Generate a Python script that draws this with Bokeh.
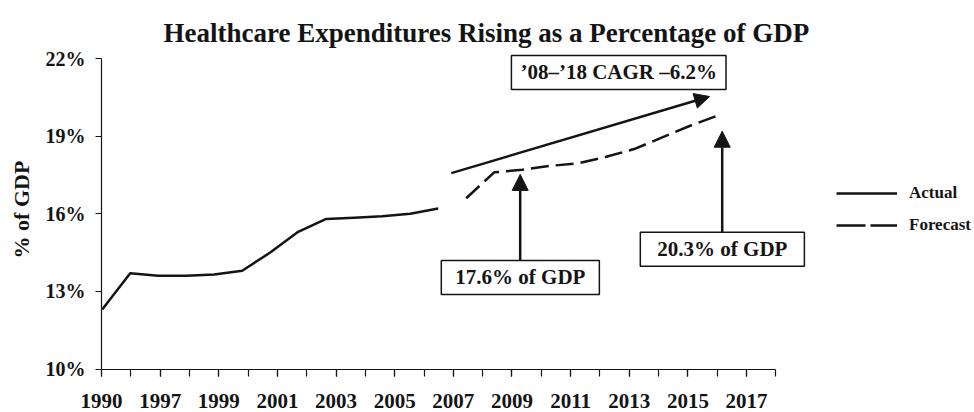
from bokeh.plotting import figure
from bokeh.models import (Range1d, FixedTicker, PrintfTickFormatter, Label, Arrow,
                          NormalHead, Legend, LegendItem, LinearAxis, Title)
from bokeh.embed import file_html
from bokeh.resources import INLINE

# ---------------- data ----------------
years = ["1990", "1996", "1997", "1998", "1999", "2000", "2001", "2002", "2003",
         "2004", "2005", "2006", "2007", "2008", "2009", "2010", "2011", "2012",
         "2013", "2014", "2015", "2016", "2017", "2018"]
label_years = ["1990", "1997", "1999", "2001", "2003", "2005", "2007", "2009",
               "2011", "2013", "2015", "2017"]

actual_years = ["1990", "1996", "1997", "1998", "1999", "2000", "2001", "2002",
                "2003", "2004", "2005", "2006", "2007"]
actual_values = [12.3, 13.7, 13.6, 13.6, 13.65, 13.8, 14.5, 15.3, 15.8, 15.85,
                 15.9, 16.0, 16.2]

forecast_years = ["2008", "2009", "2010", "2011", "2012", "2013", "2014", "2015",
                  "2016", "2017"]
forecast_values = [16.6, 17.6, 17.7, 17.85, 17.95, 18.2, 18.5, 18.95, 19.4, 19.8]

y_ticks = [10, 13, 16, 19, 22]

title_text = "Healthcare Expenditures Rising as a Percentage of GDP"
cagr_text = "\u201908\u2013\u201918 CAGR \u20136.2%"
note_2009 = "17.6% of GDP"
note_2018 = "20.3% of GDP"

# annotation anchors (axis units)
cagr_arrow = (11.93, 17.57, 20.74, 20.53)
arrow_2009 = (14.28, 14.10, 14.28, 17.52)
arrow_2018 = (21.17, 15.20, 21.17, 19.19)
box_cagr = (17.64, 21.46)
box_2009 = (14.285, 13.54)
box_2018 = (21.175, 14.63)

# ---------------- figure ----------------
FONT = "Liberation Serif"
INK = "#141414"
W, H = 974, 412
LEFT, TOP, BOTTOM = 101, 49, 43
FW, FH = W - LEFT, H - TOP - BOTTOM
TICK_PX = 29.32      # px per category on the labelled axis
DATA_PX = 28.0       # px per year on the plotted series
Y_PX = 25.875        # px per percentage point
Y0 = 10 - 0.5 / Y_PX

p = figure(width=W, height=H,
           x_range=Range1d(0, FW / TICK_PX),
           y_range=Range1d(Y0, Y0 + FH / Y_PX),
           x_axis_type=None, y_axis_type=None,
           output_backend="svg", toolbar_location=None,
           min_border_left=LEFT, min_border_right=0, min_border_top=TOP,
           min_border_bottom=BOTTOM)
p.outline_line_color = None
p.background_fill_color = "white"
p.border_fill_color = "white"
p.extra_x_ranges = {"data": Range1d(-0.025, -0.025 + FW / DATA_PX)}

p.add_layout(Title(text=title_text, align="left", offset=62, standoff=0,
                   vertical_align="top",
                   text_font=FONT, text_font_style="bold",
                   text_font_size="27px", text_color=INK), "above")

# x axis (category ticks)
major = [years.index(y) for y in label_years]
minor = list(range(len(years)))
xaxis = LinearAxis(ticker=FixedTicker(ticks=major, minor_ticks=minor),
                   bounds=(0, len(years) - 1),
                   major_label_overrides={i: years[i] for i in major})
xaxis.axis_line_color = INK
xaxis.axis_line_width = 1.2
xaxis.major_tick_out = 7
xaxis.major_tick_in = 0
xaxis.minor_tick_out = 7
xaxis.minor_tick_in = 0
xaxis.major_tick_line_color = INK
xaxis.minor_tick_line_color = INK
xaxis.major_tick_line_width = 1.2
xaxis.minor_tick_line_width = 1.2
xaxis.major_label_text_font = FONT
xaxis.major_label_text_font_style = "bold"
xaxis.major_label_text_font_size = "21px"
xaxis.major_label_text_color = INK
xaxis.major_label_text_line_height = 0.8
xaxis.major_label_standoff = 17
p.add_layout(xaxis, "below")

yaxis = LinearAxis(ticker=FixedTicker(ticks=y_ticks, minor_ticks=[]),
                   formatter=PrintfTickFormatter(format="%d%%"),
                   bounds=(10, 22), axis_label="% of GDP")
yaxis.axis_line_color = INK
yaxis.axis_line_width = 1.2
yaxis.major_tick_out = 6
yaxis.major_tick_in = 0
yaxis.major_tick_line_color = INK
yaxis.major_tick_line_width = 1.2
yaxis.major_label_text_font = FONT
yaxis.major_label_text_font_style = "bold"
yaxis.major_label_text_font_size = "20px"
yaxis.major_label_text_color = INK
yaxis.major_label_standoff = 10
yaxis.axis_label_text_font = FONT
yaxis.axis_label_text_font_style = "bold"
yaxis.axis_label_text_font_size = "22px"
yaxis.axis_label_text_color = INK
yaxis.axis_label_standoff = 9
p.add_layout(yaxis, "left")

# ---------------- series ----------------
ax_x = [years.index(y) for y in actual_years]
fc_x = [years.index(y) for y in forecast_years]
p.line(ax_x, actual_values, x_range_name="data", line_color=INK, line_width=2.5,
       line_join="round")
p.line(fc_x, forecast_values, x_range_name="data", line_color=INK, line_width=2.5,
       line_dash="18 7")

# legend swatches (off-view renderers that only carry the styles)
leg_a = p.line(x=[-5, -4], y=[0, 0], line_color=INK, line_width=2.5)
leg_f = p.line(x=[-5, -4], y=[0, 0], line_color=INK, line_width=2.5,
               line_dash="29 5")
legend = Legend(items=[LegendItem(label="Actual", renderers=[leg_a]),
                       LegendItem(label="Forecast", renderers=[leg_f])],
                location=(735, 134), glyph_width=61, glyph_height=20,
                label_height=20, label_standoff=12, spacing=12, padding=0,
                margin=0, border_line_color=None, background_fill_alpha=0,
                label_text_font=FONT, label_text_font_style="bold",
                label_text_font_size="17px", label_text_color=INK)
p.add_layout(legend)

# ---------------- annotations ----------------
def arrow(coords, size):
    x0, y0, x1, y1 = coords
    p.add_layout(Arrow(x_start=x0, y_start=y0, x_end=x1, y_end=y1,
                       line_color=INK, line_width=2.5,
                       end=NormalHead(size=size, fill_color=INK, line_color=INK,
                                      line_width=1)))

arrow(cagr_arrow, 15)
arrow(arrow_2009, 16)
arrow(arrow_2018, 16)

def box(pos, text, pad):
    p.add_layout(Label(x=pos[0], y=pos[1], text=text, text_align="center",
                       text_baseline="middle", text_font=FONT,
                       text_font_style="bold", text_font_size="21px",
                       text_color=INK, border_line_color=INK,
                       border_line_width=1.5, background_fill_color="white",
                       padding=pad))

# padding given as (horizontal, vertical)
box(box_cagr, cagr_text, (9, 5))
box(box_2009, note_2009, (14, 5))
box(box_2018, note_2018, (17, 5))

open("out.html", "w").write(file_html(p, INLINE))
